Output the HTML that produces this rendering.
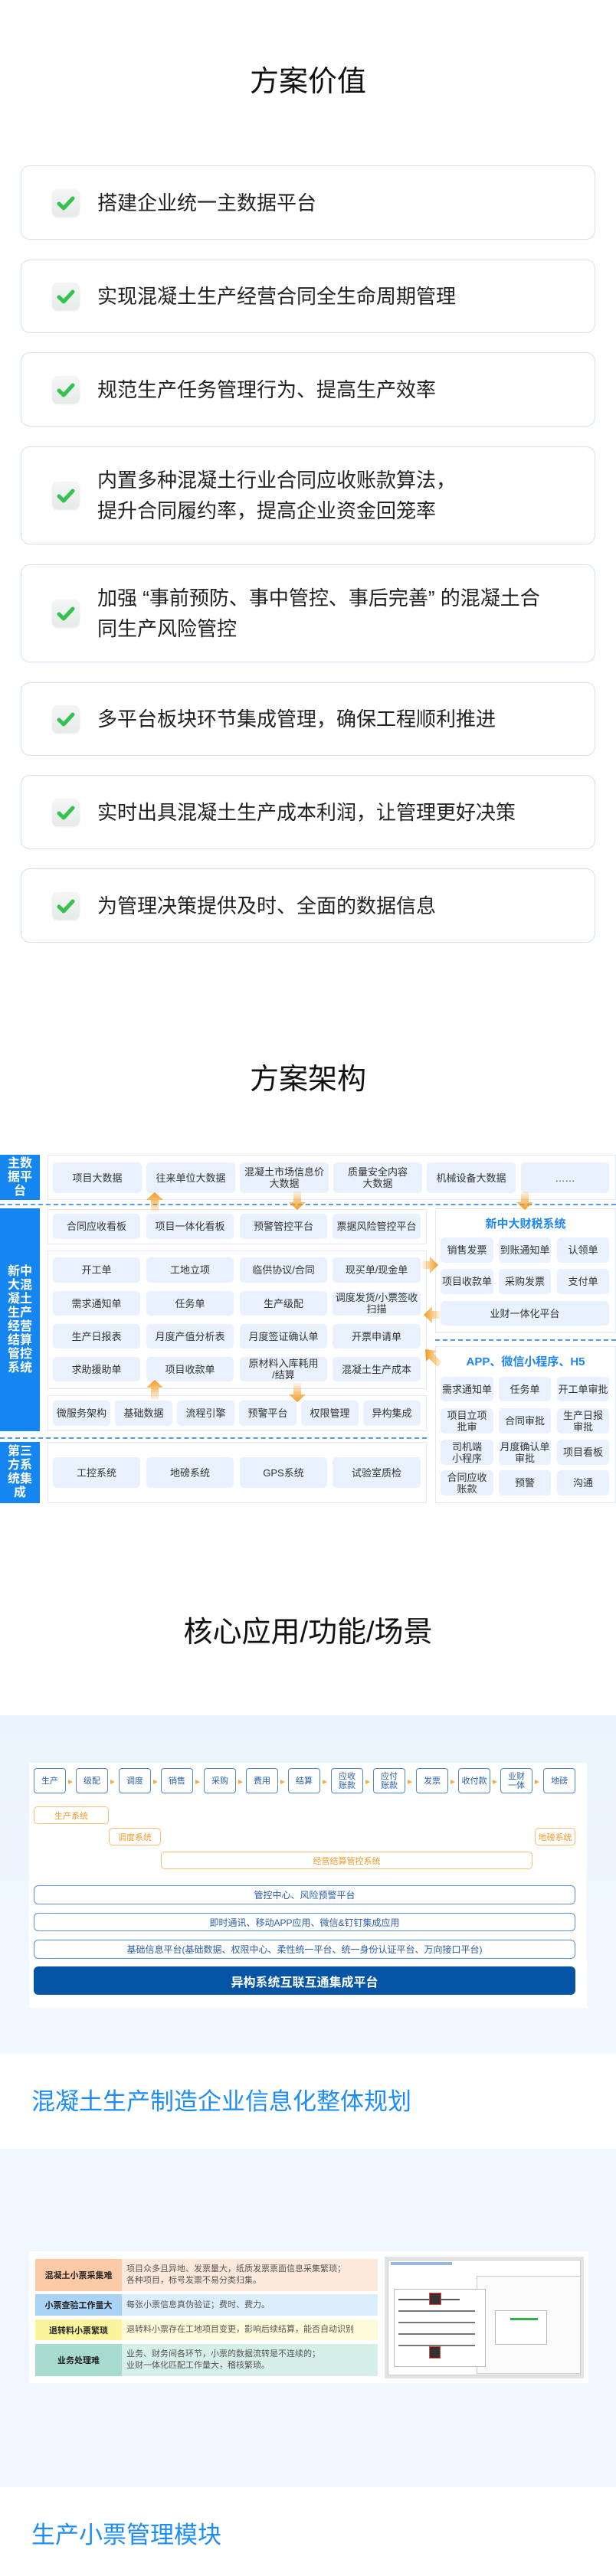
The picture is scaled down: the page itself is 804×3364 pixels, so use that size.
<!DOCTYPE html>
<html><head><meta charset="utf-8">
<style>
*{margin:0;padding:0;box-sizing:border-box}
body{width:804px;height:3364px;position:relative;background:#fff;font-family:"Liberation Sans","Noto Sans CJK SC",sans-serif;overflow:hidden}
.a{position:absolute}
.h2{position:absolute;left:0;width:804px;text-align:center;font-size:38px;color:#111;line-height:44px}
.card{position:absolute;left:27px;width:750px;border:1.5px solid #CFE0F8;border-radius:12px;background:#fff}
.card .ic{position:absolute;left:40px;top:50%;margin-top:-18px;width:36px;height:36px;border-radius:7px;background:linear-gradient(#f4f6f5,#e6ebe8);box-shadow:0 1px 2px rgba(0,0,0,.08)}
.card .ic svg{position:absolute;left:6px;top:7px}
.card .t{position:absolute;left:99px;top:50%;transform:translateY(-50%);font-size:26px;color:#222;line-height:40px;width:630px}
.lab{position:absolute;left:0;width:52px;background:#1585F0;color:#fff;font-weight:bold;font-size:16px;line-height:18px;display:flex;align-items:center;justify-content:center;text-align:center;padding:0 6px;overflow:hidden}
.pan{position:absolute;background:#fff;border:1px solid #E3EAF4}
.it{position:absolute;background:#E8F1FD;border-radius:5px;color:#333;font-size:13px;line-height:15px;display:flex;align-items:center;justify-content:center;text-align:center}
.dash{position:absolute;height:0;border-top:2px dashed #5A9BE0}
.fb{position:absolute;top:2309px;width:42px;height:33px;border:1.2px solid #4F86CC;border-radius:4px;color:#2B5FA6;font-size:11px;line-height:12px;display:flex;align-items:center;justify-content:center;text-align:center;background:#fff}
.ob{position:absolute;border:1.2px solid #F8BE78;border-radius:5px;color:#F39A2E;font-size:11px;display:flex;align-items:center;justify-content:center;background:#fff}
.bar{position:absolute;left:44px;width:707px;border:1.2px solid #5B8FD2;border-radius:6px;color:#2B5FA6;font-size:12px;display:flex;align-items:center;justify-content:center;background:#fff}
.row{position:absolute;left:46px;width:447px;display:flex}
.row .l{width:113px;display:flex;align-items:center;justify-content:center;font-weight:bold;font-size:11px;color:#222}
.row .c{flex:1;display:flex;align-items:center;padding-left:6px;font-size:11px;color:#555;line-height:15px}
.bt{position:absolute;left:41px;font-size:31px;color:#1E8CF5;line-height:36px}
</style></head><body>

<div class="h2" style="top:85px">方案价值</div>

<div class="card" style="top:216px;height:97px"><div class="ic"><svg width="24" height="22"><path d="M3 12 L9 18 L21 5" stroke="#36C24E" stroke-width="5" fill="none" stroke-linecap="round" stroke-linejoin="round"/></svg></div><div class="t">搭建企业统一主数据平台</div></div>
<div class="card" style="top:339px;height:96px"><div class="ic"><svg width="24" height="22"><path d="M3 12 L9 18 L21 5" stroke="#36C24E" stroke-width="5" fill="none" stroke-linecap="round" stroke-linejoin="round"/></svg></div><div class="t">实现混凝土生产经营合同全生命周期管理</div></div>
<div class="card" style="top:460px;height:97px"><div class="ic"><svg width="24" height="22"><path d="M3 12 L9 18 L21 5" stroke="#36C24E" stroke-width="5" fill="none" stroke-linecap="round" stroke-linejoin="round"/></svg></div><div class="t">规范生产任务管理行为、提高生产效率</div></div>
<div class="card" style="top:583px;height:128px"><div class="ic"><svg width="24" height="22"><path d="M3 12 L9 18 L21 5" stroke="#36C24E" stroke-width="5" fill="none" stroke-linecap="round" stroke-linejoin="round"/></svg></div><div class="t">内置多种混凝土行业合同应收账款算法，<br>提升合同履约率，提高企业资金回笼率</div></div>
<div class="card" style="top:737px;height:128px"><div class="ic"><svg width="24" height="22"><path d="M3 12 L9 18 L21 5" stroke="#36C24E" stroke-width="5" fill="none" stroke-linecap="round" stroke-linejoin="round"/></svg></div><div class="t">加强 “事前预防、事中管控、事后完善” 的混凝土合<br>同生产风险管控</div></div>
<div class="card" style="top:891px;height:96px"><div class="ic"><svg width="24" height="22"><path d="M3 12 L9 18 L21 5" stroke="#36C24E" stroke-width="5" fill="none" stroke-linecap="round" stroke-linejoin="round"/></svg></div><div class="t">多平台板块环节集成管理，确保工程顺利推进</div></div>
<div class="card" style="top:1012px;height:97px"><div class="ic"><svg width="24" height="22"><path d="M3 12 L9 18 L21 5" stroke="#36C24E" stroke-width="5" fill="none" stroke-linecap="round" stroke-linejoin="round"/></svg></div><div class="t">实时出具混凝土生产成本利润，让管理更好决策</div></div>
<div class="card" style="top:1134px;height:97px"><div class="ic"><svg width="24" height="22"><path d="M3 12 L9 18 L21 5" stroke="#36C24E" stroke-width="5" fill="none" stroke-linecap="round" stroke-linejoin="round"/></svg></div><div class="t">为管理决策提供及时、全面的数据信息</div></div>

<div class="h2" style="top:1388px">方案架构</div>

<!-- diagram -->
<div class="lab" style="top:1508px;height:59px">主数据平台</div>
<div class="pan" style="left:62px;top:1508px;width:742px;height:59px"></div>
<div class="it" style="left:69px;top:1518px;width:116px;height:40px">项目大数据</div>
<div class="it" style="left:191px;top:1518px;width:116px;height:40px">往来单位大数据</div>
<div class="it" style="left:313px;top:1518px;width:116px;height:40px">混凝土市场信息价<br>大数据</div>
<div class="it" style="left:435px;top:1518px;width:116px;height:40px">质量安全内容<br>大数据</div>
<div class="it" style="left:557px;top:1518px;width:116px;height:40px">机械设备大数据</div>
<div class="it" style="left:680px;top:1518px;width:115px;height:40px">……</div>
<div class="dash" style="left:0;top:1572px;width:804px"></div>

<div class="lab" style="top:1578px;height:291px">新中大混凝土生产经营结算管控系统</div>
<div class="pan" style="left:62px;top:1579px;width:495px;height:46px"></div>
<div class="it" style="left:69px;top:1585px;width:114px;height:33px">合同应收看板</div>
<div class="it" style="left:191px;top:1585px;width:114px;height:33px">项目一体化看板</div>
<div class="it" style="left:313px;top:1585px;width:114px;height:33px">预警管控平台</div>
<div class="it" style="left:434px;top:1585px;width:115px;height:33px">票据风险管控平台</div>

<div class="pan" style="left:62px;top:1633px;width:495px;height:181px"></div>
<div class="it" style="left:69px;top:1642px;width:114px;height:33px">开工单</div>
<div class="it" style="left:191px;top:1642px;width:114px;height:33px">工地立项</div>
<div class="it" style="left:313px;top:1642px;width:114px;height:33px">临供协议/合同</div>
<div class="it" style="left:434px;top:1642px;width:115px;height:33px">现买单/现金单</div>
<div class="it" style="left:69px;top:1686px;width:114px;height:32px">需求通知单</div>
<div class="it" style="left:191px;top:1686px;width:114px;height:32px">任务单</div>
<div class="it" style="left:313px;top:1686px;width:114px;height:32px">生产级配</div>
<div class="it" style="left:434px;top:1686px;width:115px;height:32px">调度发货/小票签收<br>扫描</div>
<div class="it" style="left:69px;top:1729px;width:114px;height:32px">生产日报表</div>
<div class="it" style="left:191px;top:1729px;width:114px;height:32px">月度产值分析表</div>
<div class="it" style="left:313px;top:1729px;width:114px;height:32px">月度签证确认单</div>
<div class="it" style="left:434px;top:1729px;width:115px;height:32px">开票申请单</div>
<div class="it" style="left:69px;top:1772px;width:114px;height:32px">求助援助单</div>
<div class="it" style="left:191px;top:1772px;width:114px;height:32px">项目收款单</div>
<div class="it" style="left:313px;top:1772px;width:114px;height:32px">原材料入库耗用<br>/结算</div>
<div class="it" style="left:434px;top:1772px;width:115px;height:32px">混凝土生产成本</div>

<div class="pan" style="left:62px;top:1822px;width:495px;height:47px"></div>
<div class="it" style="left:69px;top:1829px;width:75px;height:33px">微服务架构</div>
<div class="it" style="left:150px;top:1829px;width:75px;height:33px">基础数据</div>
<div class="it" style="left:231px;top:1829px;width:75px;height:33px">流程引擎</div>
<div class="it" style="left:312px;top:1829px;width:75px;height:33px">预警平台</div>
<div class="it" style="left:393px;top:1829px;width:75px;height:33px">权限管理</div>
<div class="it" style="left:474px;top:1829px;width:75px;height:33px">异构集成</div>
<div class="dash" style="left:0;top:1877px;width:557px"></div>

<div class="lab" style="top:1883px;height:80px">第三方系统集成</div>
<div class="pan" style="left:62px;top:1883px;width:495px;height:80px"></div>
<div class="it" style="left:69px;top:1903px;width:114px;height:40px">工控系统</div>
<div class="it" style="left:191px;top:1903px;width:114px;height:40px">地磅系统</div>
<div class="it" style="left:313px;top:1903px;width:114px;height:40px">GPS系统</div>
<div class="it" style="left:434px;top:1903px;width:115px;height:40px">试验室质检</div>

<div class="pan" style="left:568px;top:1578px;width:236px;height:163px"></div>
<div class="a" style="left:568px;top:1587px;width:236px;text-align:center;color:#1C85F2;font-weight:bold;font-size:15px">新中大财税系统</div>
<div class="it" style="left:575px;top:1616px;width:69px;height:33px">销售发票</div>
<div class="it" style="left:651px;top:1616px;width:68px;height:33px">到账通知单</div>
<div class="it" style="left:727px;top:1616px;width:68px;height:33px">认领单</div>
<div class="it" style="left:575px;top:1657px;width:69px;height:33px">项目收款单</div>
<div class="it" style="left:651px;top:1657px;width:68px;height:33px">采购发票</div>
<div class="it" style="left:727px;top:1657px;width:68px;height:33px">支付单</div>
<div class="it" style="left:575px;top:1699px;width:220px;height:32px">业财一体化平台</div>
<div class="dash" style="left:568px;top:1749px;width:236px"></div>
<div class="pan" style="left:568px;top:1758px;width:236px;height:205px"></div>
<div class="a" style="left:568px;top:1767px;width:236px;text-align:center;color:#1C85F2;font-weight:bold;font-size:15px">APP、微信小程序、H5</div>
<div class="it" style="left:575px;top:1798px;width:69px;height:32px">需求通知单</div>
<div class="it" style="left:651px;top:1798px;width:68px;height:32px">任务单</div>
<div class="it" style="left:727px;top:1798px;width:68px;height:32px">开工单审批</div>
<div class="it" style="left:575px;top:1839px;width:69px;height:33px">项目立项<br>批审</div>
<div class="it" style="left:651px;top:1839px;width:68px;height:33px">合同审批</div>
<div class="it" style="left:727px;top:1839px;width:68px;height:33px">生产日报<br>审批</div>
<div class="it" style="left:575px;top:1880px;width:69px;height:33px">司机端<br>小程序</div>
<div class="it" style="left:651px;top:1880px;width:68px;height:33px">月度确认单<br>审批</div>
<div class="it" style="left:727px;top:1880px;width:68px;height:33px">项目看板</div>
<div class="it" style="left:575px;top:1920px;width:69px;height:33px">合同应收<br>账款</div>
<div class="it" style="left:651px;top:1920px;width:68px;height:33px">预警</div>
<div class="it" style="left:727px;top:1920px;width:68px;height:33px">沟通</div>

<svg class="a" style="left:0;top:0" width="804" height="2000">
<defs>
<linearGradient id="gu" x1="0" y1="0" x2="0" y2="1"><stop offset="0" stop-color="#F29A1E"/><stop offset="1" stop-color="#F29A1E" stop-opacity="0.1"/></linearGradient>
<linearGradient id="gd" x1="0" y1="1" x2="0" y2="0"><stop offset="0" stop-color="#F29A1E"/><stop offset="1" stop-color="#F29A1E" stop-opacity="0.1"/></linearGradient>
<linearGradient id="gr" x1="1" y1="0" x2="0" y2="0"><stop offset="0" stop-color="#F29A1E"/><stop offset="1" stop-color="#F29A1E" stop-opacity="0.1"/></linearGradient>
<linearGradient id="gl" x1="0" y1="0" x2="1" y2="0"><stop offset="0" stop-color="#F29A1E"/><stop offset="1" stop-color="#F29A1E" stop-opacity="0.1"/></linearGradient>
</defs>
<path d="M202 1557 L213 1567 L207 1567 L207 1583 L197 1583 L197 1567 L191 1567Z" fill="url(#gu)"/>
<path d="M388 1580 L399 1570 L393 1570 L393 1556 L383 1556 L383 1570 L377 1570Z" fill="url(#gd)"/>
<path d="M685 1580 L696 1570 L690 1570 L690 1556 L680 1556 L680 1570 L674 1570Z" fill="url(#gd)"/>
<path d="M572 1652 L561 1641 L561 1647 L551 1647 L551 1657 L561 1657 L561 1663Z" fill="url(#gr)"/>
<path d="M553 1717 L564 1706 L564 1712 L575 1712 L575 1722 L564 1722 L564 1728Z" fill="url(#gl)"/>
<path d="M555 1762 L570 1764 L566 1768 L577 1779 L571 1785 L560 1774 L556 1778Z" fill="url(#gl)"/>
<path d="M202 1802 L213 1812 L207 1812 L207 1828 L197 1828 L197 1812 L191 1812Z" fill="url(#gu)"/>
<path d="M388 1831 L399 1821 L393 1821 L393 1806 L383 1806 L383 1821 L377 1821Z" fill="url(#gd)"/>
</svg>

<div class="h2" style="top:2110px">核心应用/功能/场景</div>

<div class="a" style="left:0;top:2240px;width:804px;height:442px;background:linear-gradient(#EBF3FE,#F2F8FF)"></div>
<div class="a" style="left:38px;top:2302px;width:728px;height:320px;background:#fff"></div>
<div class="fb" style="left:44px">生产</div>
<div class="fb" style="left:99px">级配</div>
<div class="fb" style="left:155px">调度</div>
<div class="fb" style="left:210px">销售</div>
<div class="fb" style="left:266px">采购</div>
<div class="fb" style="left:321px">费用</div>
<div class="fb" style="left:376px">结算</div>
<div class="fb" style="left:432px">应收<br>账款</div>
<div class="fb" style="left:487px">应付<br>账款</div>
<div class="fb" style="left:543px">发票</div>
<div class="fb" style="left:598px">收付款</div>
<div class="fb" style="left:653px">业财<br>一体</div>
<div class="fb" style="left:709px">地磅</div>
<svg class="a" style="left:0;top:2320px" width="804" height="14">
<g fill="#F7A94A">
<path d="M89 4 L95 7 L89 10Z"/><path d="M144 4 L150 7 L144 10Z"/><path d="M200 4 L206 7 L200 10Z"/><path d="M255 4 L261 7 L255 10Z"/><path d="M311 4 L317 7 L311 10Z"/><path d="M366 4 L372 7 L366 10Z"/><path d="M421 4 L427 7 L421 10Z"/><path d="M477 4 L483 7 L477 10Z"/><path d="M532 4 L538 7 L532 10Z"/><path d="M588 4 L594 7 L588 10Z"/><path d="M643 4 L649 7 L643 10Z"/><path d="M698 4 L704 7 L698 10Z"/>
</g></svg>
<div class="ob" style="left:44px;top:2359px;width:98px;height:23px">生产系统</div>
<div class="ob" style="left:142px;top:2387px;width:68px;height:23px">调度系统</div>
<div class="ob" style="left:698px;top:2387px;width:53px;height:23px">地磅系统</div>
<div class="ob" style="left:210px;top:2418px;width:485px;height:23px">经营结算管控系统</div>
<div class="bar" style="top:2462px;height:25px">管控中心、风险预警平台</div>
<div class="bar" style="top:2498px;height:24px">即时通讯、移动APP应用、微信&amp;钉钉集成应用</div>
<div class="bar" style="top:2533px;height:25px">基础信息平台(基础数据、权限中心、柔性统一平台、统一身份认证平台、万向接口平台)</div>
<div class="a" style="left:44px;top:2568px;width:707px;height:37px;background:#0455A6;border-radius:6px;color:#fff;font-weight:bold;font-size:16px;display:flex;align-items:center;justify-content:center">异构系统互联互通集成平台</div>

<div class="bt" style="top:2727px">混凝土生产制造企业信息化整体规划</div>

<div class="a" style="left:0;top:2806px;width:804px;height:442px;background:#EFF6FF"></div>
<div class="a" style="left:38px;top:2940px;width:730px;height:172px;background:#fff"></div>
<div class="row" style="top:2950px;height:42px"><div class="l" style="background:#FAC9A5">混凝土小票采集难</div><div class="c" style="background:#FDE9DC">项目众多且异地、发票量大，纸质发票票面信息采集繁琐；<br>各种项目，标号发票不易分类归集。</div></div>
<div class="row" style="top:2996px;height:28px"><div class="l" style="background:#A9D3F5">小票查验工作量大</div><div class="c" style="background:#DCEEFB">每张小票信息真伪验证；费时、费力。</div></div>
<div class="row" style="top:3029px;height:27px"><div class="l" style="background:#FAF59C">退转料小票繁琐</div><div class="c" style="background:#FDFBD9">退转料小票存在工地项目变更，影响后续结算，能否自动识别</div></div>
<div class="row" style="top:3061px;height:42px"><div class="l" style="background:#A6DBCE">业务处理难</div><div class="c" style="background:#D6EFE8">业务、财务间各环节，小票的数据流转是不连续的；<br>业财一体化匹配工作量大，稽核繁琐。</div></div>
<div class="a" style="left:502px;top:2947px;width:260px;height:159px;background:#E2E5E8;padding:4px">
 <div style="position:absolute;left:4px;top:4px;width:252px;height:151px;background:#fff;border:1px solid #ccc"></div>
 <div style="position:absolute;left:8px;top:7px;width:80px;height:4px;background:#9bb8dc"></div>
 <div style="position:absolute;left:120px;top:25px;width:136px;height:128px;background:#fbfbfb;border:1px solid #ccc"></div>
 <div style="position:absolute;left:12px;top:42px;width:120px;height:102px;background:#fff;border:1px solid #bbb"></div>
 <div style="position:absolute;left:18px;top:55px;width:80px;height:2px;background:#555"></div>
 <div style="position:absolute;left:18px;top:70px;width:100px;height:2px;background:#777"></div>
 <div style="position:absolute;left:18px;top:85px;width:100px;height:2px;background:#777"></div>
 <div style="position:absolute;left:18px;top:100px;width:100px;height:2px;background:#777"></div>
 <div style="position:absolute;left:18px;top:115px;width:100px;height:2px;background:#777"></div>
 <div style="position:absolute;left:59px;top:48px;width:14px;height:14px;background:#333;outline:1px solid #e44"></div>
 <div style="position:absolute;left:59px;top:118px;width:13px;height:14px;background:#333;outline:1px solid #e44"></div>
 <div style="position:absolute;left:144px;top:70px;width:68px;height:45px;background:#fff;border:1px solid #bbb"></div>
 <div style="position:absolute;left:164px;top:80px;width:36px;height:3px;background:#2DB34A"></div>
</div>

<div class="bt" style="top:3293px">生产小票管理模块</div>
</body></html>
